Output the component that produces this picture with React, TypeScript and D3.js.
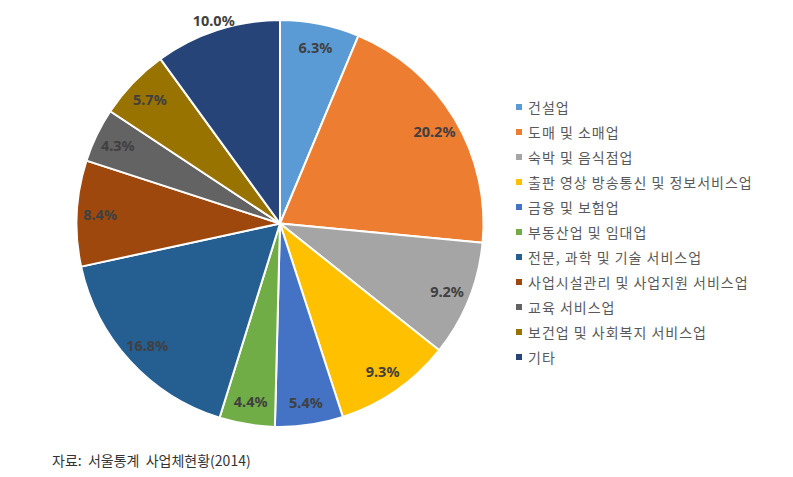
import React from "react";
import * as d3 from "d3";

const categories = [
  "건설업",
  "도매 및 소매업",
  "숙박 및 음식점업",
  "출판 영상 방송통신 및 정보서비스업",
  "금융 및 보험업",
  "부동산업 및 임대업",
  "전문, 과학 및 기술 서비스업",
  "사업시설관리 및 사업지원 서비스업",
  "교육 서비스업",
  "보건업 및 사회복지 서비스업",
  "기타",
];
const values = [6.3, 20.2, 9.2, 9.3, 5.4, 4.4, 16.8, 8.4, 4.3, 5.7, 10.0];
const colors = [
  "#5B9BD5",
  "#ED7D31",
  "#A5A5A5",
  "#FFC000",
  "#4472C4",
  "#70AD47",
  "#255E91",
  "#9E480E",
  "#636363",
  "#997300",
  "#264478",
];
const outsideLabels = ["기타"];
const sourceText = "자료:  서울통계  사업체현황(2014)";

type Datum = { name: string; value: number; color: string };

export default function App() {
  const width = 793;
  const height = 477;
  const cx = 272; // svg coords (body margin 8)
  const cy = 215.5;
  const R = 203.5;

  const data: Datum[] = categories.map((name, i) => ({
    name,
    value: values[i],
    color: colors[i],
  }));

  const pie = d3
    .pie<Datum>()
    .sort(null)
    .value((d) => d.value)
    .startAngle(0)
    .endAngle(2 * Math.PI);
  const arcs = pie(data);
  const arc = d3.arc<d3.PieArcDatum<Datum>>().innerRadius(0).outerRadius(R);
  const labelArcIn = d3
    .arc<d3.PieArcDatum<Datum>>()
    .innerRadius(R * 0.885)
    .outerRadius(R * 0.885);
  const labelArcOut = d3
    .arc<d3.PieArcDatum<Datum>>()
    .innerRadius(R + 11)
    .outerRadius(R + 11);

  const legendX = 508;
  const legendY0 = 99;
  const legendStep = 25;
  const legendScale = d3
    .scaleLinear()
    .domain([0, categories.length - 1])
    .range([legendY0, legendY0 + legendStep * (categories.length - 1)]);

  return (
    <svg width={width} height={height - 16} style={{ display: "block" }}>
      <g transform={`translate(${cx},${cy})`}>
        {arcs.map((a, i) => (
          <path
            key={i}
            d={arc(a) || ""}
            fill={a.data.color}
            stroke="#ffffff"
            strokeWidth={2}
            strokeLinejoin="round"
          />
        ))}
        {arcs.map((a, i) => {
          const outside = outsideLabels.includes(a.data.name);
          const [x, y] = (outside ? labelArcOut : labelArcIn).centroid(a);
          return (
            <text
              key={"l" + i}
              x={x}
              y={y}
              textAnchor="middle"
              dominantBaseline="central"
              fontFamily="'Noto Sans', sans-serif"
              fontWeight="bold"
              fontSize={14.5}
              fill="#404040"
            >
              {a.data.value.toFixed(1)}%
            </text>
          );
        })}
      </g>
      <g>
        {data.map((d, i) => (
          <g key={"lg" + i} transform={`translate(${legendX},${legendScale(i)})`}>
            <rect x={0} y={-3} width={6} height={6} fill={d.color} />
            <text
              x={12}
              y={0}
              dominantBaseline="central"
              fontFamily="'Noto Sans CJK KR', sans-serif"
              fontSize={14}
              letterSpacing={1}
              fill="#595959"
            >
              {d.name}
            </text>
          </g>
        ))}
      </g>
      <text
        x={44}
        y={452}
        dominantBaseline="central"
        fontFamily="'Noto Sans CJK KR', sans-serif"
        fontSize={14}
        fill="#333333"
        style={{ whiteSpace: "pre" }}
      >
        {sourceText}
      </text>
    </svg>
  );
}
